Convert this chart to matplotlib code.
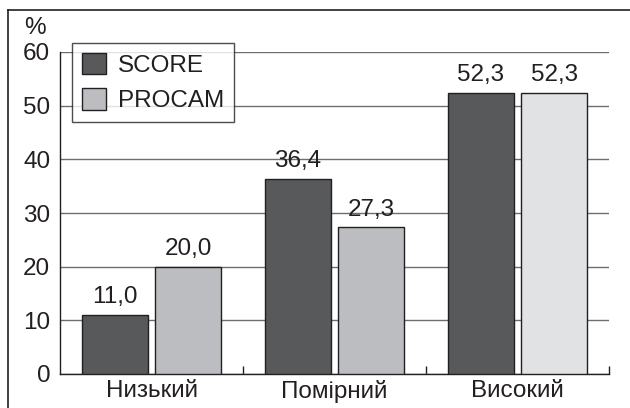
import matplotlib
matplotlib.use("Agg")
import matplotlib.pyplot as plt
import numpy as np
from matplotlib.lines import Line2D

# ── Дані ────────────────────────────────────────────────────────────────
categories = ["Низький", "Помірний", "Високий"]
score_vals = [11.0, 36.4, 52.3]
procam_vals = [20.0, 27.3, 52.3]
series_names = ["SCORE", "PROCAM"]
y_ticks = [0, 10, 20, 30, 40, 50, 60]

# ── Стиль ───────────────────────────────────────────────────────────────
TEXT = "#231f20"
DARK = "#58595b"
LIGHT = "#bcbdc0"
LIGHTER = "#e1e2e4"
GRID = "#6d6e70"
FS = 17.5

plt.rcParams["font.family"] = ["Liberation Sans", "DejaVu Sans"]

fig = plt.figure(figsize=(6.3, 4.08), dpi=100)
fig.patch.set_facecolor("white")
ax = fig.add_axes([60 / 630, 1 - 374 / 408, 549 / 630, 322 / 408])

x = np.arange(len(categories))
w = 0.36
off = 0.2

procam_colors = [LIGHT, LIGHT, LIGHTER]

b1 = ax.bar(x - off, score_vals, w, color=DARK, edgecolor=TEXT, linewidth=1.0, zorder=3)
b2 = ax.bar(x + off, procam_vals, w, color=procam_colors, edgecolor=TEXT, linewidth=1.0, zorder=3)

for bars, vals in ((b1, score_vals), (b2, procam_vals)):
    for rect, v in zip(bars, vals):
        ax.annotate(f"{v:.1f}".replace(".", ","),
                    (rect.get_x() + rect.get_width() / 2, rect.get_height()),
                    xytext=(0, 5), textcoords="offset points",
                    ha="center", va="bottom", fontsize=FS, color=TEXT)

ax.set_ylim(0, 60)
ax.set_xlim(-0.5, 2.5)
ax.set_yticks(y_ticks)
ax.set_yticklabels([str(t) for t in y_ticks], fontsize=FS, color=TEXT)
ax.yaxis.grid(True, color=GRID, linewidth=1.0, zorder=0)
ax.set_axisbelow(True)
ax.tick_params(axis="y", length=0, pad=7)

ax.set_xticks(x)
ax.set_xticklabels(categories, fontsize=FS, color=TEXT)
ax.set_xticks([0.5, 1.5, 2.5], minor=True)
ax.tick_params(axis="x", which="major", length=0, pad=4)
ax.tick_params(axis="x", which="minor", direction="in", length=6, width=1.0, color=TEXT)

for s in ("top", "right"):
    ax.spines[s].set_visible(False)
for s in ("left", "bottom"):
    ax.spines[s].set_color(TEXT)
    ax.spines[s].set_linewidth(1.0)

ax.text(-0.046, 1.04, "%", transform=ax.transAxes, fontsize=FS, color=TEXT,
        ha="center", va="bottom")

leg = ax.legend([b1[0], b2[0]], series_names, loc="upper left",
                bbox_to_anchor=(12 / 549, 1 + 9 / 322), borderaxespad=0,
                fontsize=FS, frameon=True, fancybox=False,
                handlelength=1.0, handleheight=1.0, handletextpad=0.5,
                labelspacing=0.45, borderpad=0.4)
leg.get_frame().set_edgecolor(TEXT)
leg.get_frame().set_linewidth(1.0)
leg.legend_handles[1].set_facecolor(LIGHT)
for t in leg.get_texts():
    t.set_color(TEXT)

# Рамка навколо рисунка
fig.add_artist(Line2D([8 / 630, 1.0], [1 - 10 / 408, 1 - 10 / 408],
                      transform=fig.transFigure, color=TEXT, linewidth=1.2))
fig.add_artist(Line2D([8 / 630, 8 / 630], [0.0, 1 - 10 / 408],
                      transform=fig.transFigure, color=TEXT, linewidth=1.2))

fig.savefig("out.png", dpi=100, facecolor="white")
